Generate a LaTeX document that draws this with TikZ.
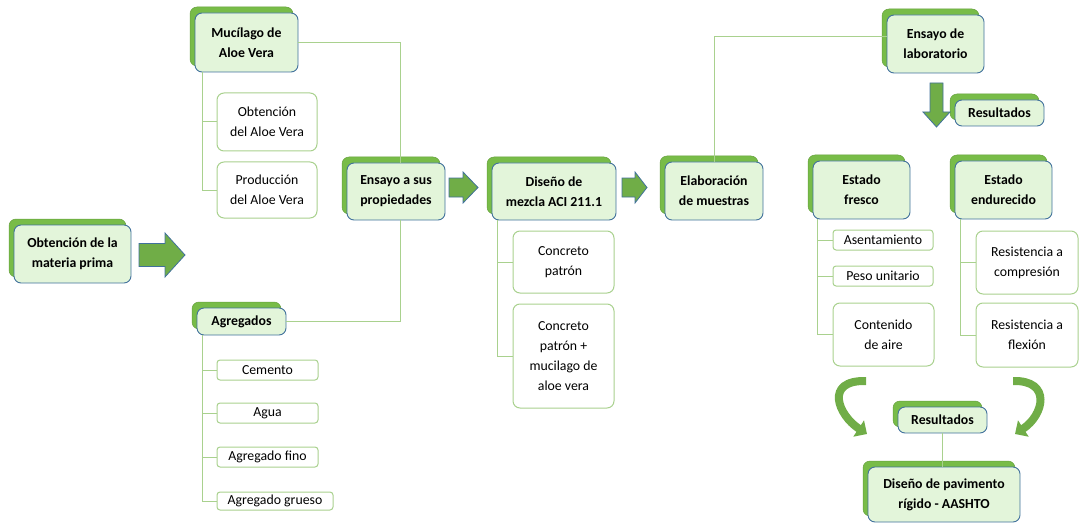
\documentclass[tikz,border=0pt]{standalone}
\usepackage{fontspec}
\setmainfont{Carlito}
\usepackage{tikz}
\usetikzlibrary{arrows.meta,positioning,shadows}
\definecolor{mmfill}{HTML}{E3F5DA}
\definecolor{mmblue}{HTML}{41719C}
\definecolor{mmshadow}{HTML}{78BC48}
\definecolor{mmline}{HTML}{A9D18E}
\definecolor{mmarrow}{HTML}{70AD47}

\begin{document}
\begin{tikzpicture}[
  x=1pt,
  y=-1pt,
  font=\fontsize{13.8}{20}\selectfont,
  boxsize/.style 2 args={minimum width=#1pt, minimum height=#2pt},
  headbox/.style={draw=mmblue, fill=mmfill, line width=0.9pt, rounded corners=7pt, align=center,
    inner sep=2pt, font=\fontsize{13.8}{20}\selectfont\bfseries,
    copy shadow={shadow xshift=-5pt, shadow yshift=6pt, fill=mmshadow, draw=mmshadow!85!black, line width=0.5pt}},
  subbox/.style={draw=mmline, fill=white, line width=1pt, rounded corners=7pt, align=center, inner sep=2pt},
  smallbox/.style={subbox, rounded corners=3pt},
  link/.style={draw=mmline, line width=1pt},
  blockarr/.style={draw=mmblue, fill=mmarrow, line width=0.8pt},
  curvearr/.style={draw=mmarrow, line width=8pt, -{Triangle[width=19pt,length=10pt]}},
  pics/flow/.style n args={4}{code={
    \draw[blockarr] (0,-#3) -- (#1,-#3) -- (#1,-#4) -- (#2,0) -- (#1,#4) -- (#1,#3) -- (0,#3) -- cycle;}}
]
\useasboundingbox (0,0) rectangle (1079,524);

\node[headbox, boxsize={117}{58}] (materia) at (72.5,254) {Obtención de la\\materia prima};
\node[headbox, boxsize={103}{59}] (mucilago) at (246.5,42.5) {Mucílago de\\Aloe Vera};
\node[subbox, boxsize={100}{58}] (obtaloe) at (267,122) {Obtención\\del Aloe Vera};
\node[subbox, boxsize={100}{56}] (prodaloe) at (267,190) {Producción\\del Aloe Vera};
\node[headbox, boxsize={98}{57}] (propiedades) at (396,191.5) {Ensayo a sus\\propiedades};
\node[headbox, boxsize={89}{27}] (agregados) at (241.5,321.5) {Agregados};
\node[smallbox, boxsize={101}{20}] (cemento) at (267.5,370) {Cemento};
\node[smallbox, boxsize={101}{20}] (agua) at (267.5,413) {Agua};
\node[smallbox, boxsize={101}{20}] (fino) at (267.5,457) {Agregado fino};
\node[smallbox, boxsize={116}{18}] (grueso) at (275,501) {Agregado grueso};

\node[headbox, boxsize={124}{57}] (mezcla) at (554,191.5) {Diseño de\\mezcla ACI 211.1};
\node[subbox, boxsize={101}{62}] (patron) at (563.5,262) {Concreto\\patrón};
\node[subbox, boxsize={101}{104}] (patronmuc) at (563.5,356) {Concreto\\patrón +\\mucilago de\\aloe vera};
\node[headbox, boxsize={98}{58}] (muestras) at (714,191) {Elaboración\\de muestras};

\node[headbox, boxsize={97}{58}] (laboratorio) at (935.5,44) {Ensayo de\\laboratorio};
\node[headbox, boxsize={89}{26}] (resA) at (999.5,113) {Resultados};
\node[headbox, boxsize={97}{58}] (fresco) at (861.5,190) {Estado\\fresco};
\node[headbox, boxsize={97}{58}] (endurecido) at (1003.5,190) {Estado\\endurecido};
\node[smallbox, boxsize={100}{20}] (asentamiento) at (883,240) {Asentamiento};
\node[smallbox, boxsize={100}{20}] (peso) at (883,276) {Peso unitario};
\node[subbox, boxsize={101}{63}] (aire) at (883.5,334.5) {Contenido\\de aire};
\node[subbox, boxsize={102}{63}] (compresion) at (1027,262.5) {Resistencia a\\compresión};
\node[subbox, boxsize={102}{64}] (flexion) at (1027,335) {Resistencia a\\flexión};
\node[headbox, boxsize={89}{26}] (resB) at (942.5,420) {Resultados};
\node[headbox, boxsize={152}{55}] (pavimento) at (944,494.5) {Diseño de pavimento\\rígido - AASHTO};

\pic at (139,255) {flow={26}{46}{11.5}{22}};
\pic at (449,187.5) {flow={14}{29}{9.5}{15.5}};
\pic at (622,187.5) {flow={13}{25}{9.5}{15.5}};
\pic[rotate=-90] at (936.5,83) {flow={29}{44}{6.5}{13.5}};

\coordinate (curveLa) at (866,381);
\coordinate (curveLb) at (867,434);
\coordinate (curveRa) at (1013,381);
\coordinate (curveRb) at (1015,434);

\draw[link] (mucilago.east) -| ([xshift=4pt]propiedades.north);
\draw[link] (agregados.east) -| ([xshift=4pt]propiedades.south);
\draw[link] ([xshift=8pt]mucilago.south west) |- (obtaloe.west);
\draw[link] ([xshift=8pt]mucilago.south west) |- (prodaloe.west);
\foreach \n in {cemento,agua,fino,grueso}
  \draw[link] ([xshift=6pt]agregados.south west) |- (\n.west);
\draw[link] ([xshift=6pt]mezcla.south west) |- (patron.west);
\draw[link] ([xshift=6pt]mezcla.south west) |- (patronmuc.west);
\draw[link] (muestras.north) |- ([yshift=7pt]laboratorio.west);
\foreach \n in {asentamiento,peso,aire}
  \draw[link] ([xshift=5pt]fresco.south west) |- (\n.west);
\foreach \n in {compresion,flexion}
  \draw[link] ([xshift=6pt]endurecido.south west) |- (\n.west);
\draw[link] (resB.south) -- (resB.south |- pavimento.north);
\draw[curvearr] (curveLa) .. controls (824,380) and (838,415) .. (curveLb);
\draw[curvearr] (curveRa) .. controls (1052,380) and (1044,415) .. (curveRb);
\end{tikzpicture}
\end{document}
